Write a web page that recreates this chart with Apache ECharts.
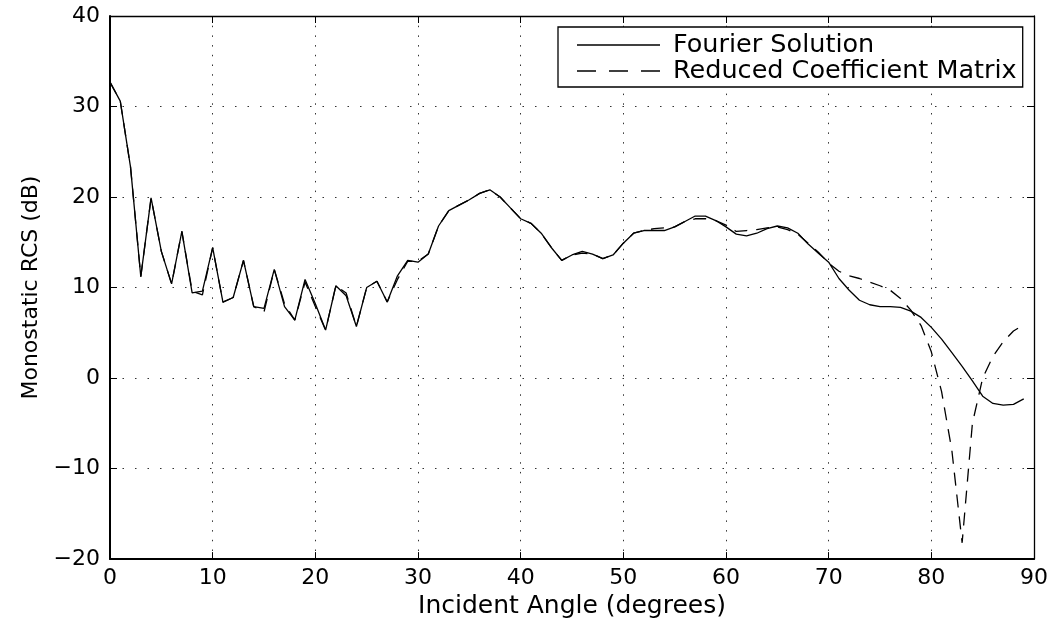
<!DOCTYPE html>
<html>
<head>
<meta charset="utf-8">
<script src="https://cdn.jsdelivr.net/npm/echarts@6/dist/echarts.min.js"></script>
<style>
html,body{margin:0;padding:0;background:#fff;}
#chart{width:1055px;height:624px;}
</style>
</head>
<body>
<div id="chart"></div>
<script>
const angles = Array.from({length: 90}, (_, i) => i); // 0..89 degrees
const fourier = [
  32.7, 30.6, 23.3, 11.2, 19.9, 14.0, 10.4, 16.2, 9.4, 9.6,
  14.4, 8.4, 8.9, 13.0, 7.9, 7.7, 12.0, 7.9, 6.4, 10.9,
  8.2, 5.3, 10.2, 9.1, 5.7, 10.0, 10.7, 8.4, 11.3, 13.0,
  12.8, 13.7, 16.8, 18.5, 19.1, 19.7, 20.4, 20.8, 20.0, 18.8,
  17.6, 17.1, 16.0, 14.4, 13.0, 13.6, 14.0, 13.7, 13.2, 13.6,
  14.9, 16.0, 16.3, 16.3, 16.3, 16.7, 17.3, 17.9, 17.9, 17.4,
  16.7, 15.9, 15.7, 16.0, 16.5, 16.8, 16.6, 16.0, 14.8, 13.8,
  12.8, 11.0, 9.7, 8.6, 8.1, 7.9, 7.9, 7.8, 7.4, 6.7,
  5.6, 4.3, 2.8, 1.3, -0.3, -2.0, -2.8, -3.0, -2.9, -2.3
];
const reduced = [
  32.7, 30.6, 23.3, 11.2, 19.9, 14.0, 10.4, 16.2, 9.6, 9.2,
  14.4, 8.4, 8.9, 13.0, 7.9, 7.3, 12.0, 8.2, 6.4, 10.6,
  7.9, 5.3, 10.2, 9.4, 5.7, 10.0, 10.7, 8.4, 10.9, 12.9,
  12.9, 13.7, 16.8, 18.5, 19.1, 19.7, 20.4, 20.8, 20.0, 18.8,
  17.6, 17.1, 16.0, 14.4, 13.0, 13.6, 13.8, 13.7, 13.2, 13.6,
  14.9, 16.0, 16.3, 16.5, 16.6, 16.7, 17.3, 17.6, 17.6, 17.4,
  16.9, 16.2, 16.3, 16.4, 16.6, 16.7, 16.4, 15.9, 14.9, 13.9,
  12.7, 11.8, 11.3, 11.0, 10.6, 10.2, 9.7, 8.8, 7.5, 5.8,
  2.9, -1.5, -8.0, -18.2, -5.0, 0.0, 2.4, 4.0, 5.2, 5.9
];
const seriesNames = ['Fourier Solution', 'Reduced Coefficient Matrix'];
const xAxisTitle = 'Incident Angle (degrees)';
const yAxisTitle = 'Monostatic RCS (dB)';

const FONT = 'DejaVu Sans';
const chart = echarts.init(document.getElementById('chart'), null, {renderer: 'canvas'});

const baseX = {type: 'value', min: 0, max: 90, interval: 10};
const baseY = {type: 'value', min: -20, max: 40, interval: 10};
const minusFmt = v => String(v).replace('-', '\u2212');

const solidIcon = 'path://M0,0L83,0L83,1.4L0,1.4Z';
const dashIcon = 'path://M0,0L19,0L19,1.4L0,1.4Z M32,0L51,0L51,1.4L32,1.4Z M64,0L83,0L83,1.4L64,1.4Z';

chart.setOption({
  animation: false,
  backgroundColor: '#ffffff',
  grid: {left: 110, right: 21, top: 16, bottom: 60, show: false},
  legend: {
    orient: 'vertical',
    left: 558,
    top: 27,
    padding: [5, 6, 3, 19],
    itemGap: 0,
    itemWidth: 83,
    itemHeight: 1.4,
    borderColor: '#000',
    borderWidth: 1.3,
    backgroundColor: '#fff',
    textStyle: {fontFamily: FONT, fontSize: 25.5, color: '#000', lineHeight: 25, padding: [0, 0, 0, 8]},
    data: [
      {name: seriesNames[0], icon: solidIcon, itemStyle: {color: '#000', borderWidth: 0}},
      {name: seriesNames[1], icon: dashIcon, itemStyle: {color: '#000', borderWidth: 0}}
    ]
  },
  xAxis: [
    Object.assign({}, baseX, {
      position: 'bottom',
      name: xAxisTitle,
      nameLocation: 'middle',
      nameGap: 32,
      nameTextStyle: {fontFamily: FONT, fontSize: 25, color: '#000'},
      axisLine: {onZero: false, lineStyle: {color: '#000', width: 2}},
      axisTick: {inside: true, length: 7, lineStyle: {color: '#000', width: 1}},
      axisLabel: {fontFamily: FONT, fontSize: 22, color: '#000', margin: 8, formatter: minusFmt},
      splitLine: {show: true, lineStyle: {color: '#333', width: 1, type: [1.5, 8.2]}}
    }),
    Object.assign({}, baseX, {
      position: 'top',
      axisLine: {onZero: false, lineStyle: {color: '#000', width: 1.3}},
      axisTick: {inside: true, length: 7, lineStyle: {color: '#000', width: 1}},
      axisLabel: {show: false},
      splitLine: {show: false}
    })
  ],
  yAxis: [
    Object.assign({}, baseY, {
      position: 'left',
      name: yAxisTitle,
      nameLocation: 'middle',
      nameGap: 62,
      nameRotate: 90,
      nameTextStyle: {fontFamily: FONT, fontSize: 22, color: '#000'},
      axisLine: {onZero: false, lineStyle: {color: '#000', width: 2}},
      axisTick: {inside: true, length: 7, lineStyle: {color: '#000', width: 1}},
      axisLabel: {fontFamily: FONT, fontSize: 22, color: '#000', margin: 10, formatter: minusFmt},
      splitLine: {show: true, lineStyle: {color: '#333', width: 1, type: [1.5, 11]}}
    }),
    Object.assign({}, baseY, {
      position: 'right',
      axisLine: {onZero: false, lineStyle: {color: '#000', width: 1.3}},
      axisTick: {inside: true, length: 7, lineStyle: {color: '#000', width: 1}},
      axisLabel: {show: false},
      splitLine: {show: false}
    })
  ],
  series: [
    {
      name: seriesNames[0],
      type: 'line',
      xAxisIndex: 0, yAxisIndex: 0,
      symbol: 'none',
      data: angles.map((a, i) => [a, fourier[i]]),
      lineStyle: {color: '#000', width: 1.3, type: 'solid'},
      itemStyle: {color: '#000'}
    },
    {
      name: seriesNames[1],
      type: 'line',
      xAxisIndex: 0, yAxisIndex: 0,
      symbol: 'none',
      data: angles.map((a, i) => [a, reduced[i]]),
      lineStyle: {color: '#000', width: 1.3, type: [13, 9]},
      itemStyle: {color: '#000'}
    }
  ]
});
</script>
</body>
</html>
